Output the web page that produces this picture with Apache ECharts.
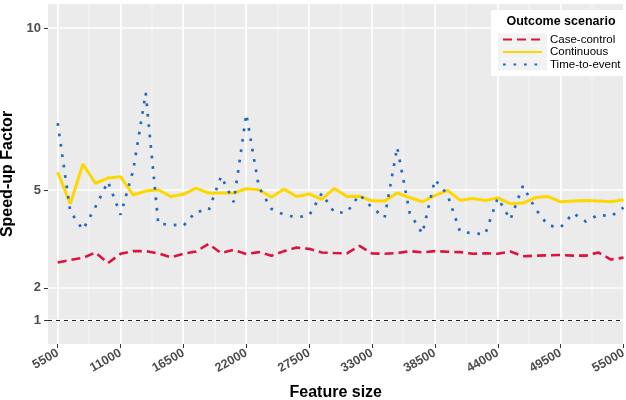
<!DOCTYPE html>
<html><head><meta charset="utf-8">
<script src="https://cdn.jsdelivr.net/npm/echarts@6/dist/echarts.min.js"></script>
<style>html,body{margin:0;padding:0;background:#fff}#c{width:626px;height:400px}</style>
</head><body><div id="c"></div>
<script>
const featureSize = [5500,6600,7700,8800,9900,11000,12100,13200,14300,15400,16500,17600,18700,19800,20900,22000,23100,24200,25300,26400,27500,28600,29700,30800,31900,33000,34100,35200,36300,37400,38500,39600,40700,41800,42900,44000,45100,46200,47300,48400,49500,50600,51700,52800,53900,55000];
const caseControl = [2.78,2.86,2.92,3.09,2.76,3.05,3.13,3.13,3.06,2.94,3.05,3.12,3.35,3.07,3.17,3.04,3.10,2.99,3.13,3.24,3.20,3.09,3.07,3.06,3.29,3.06,3.05,3.07,3.13,3.09,3.13,3.11,3.10,3.05,3.06,3.05,3.12,2.97,2.99,3.00,3.01,2.99,2.99,3.09,2.87,2.93];
const continuous = [5.56,4.59,5.81,5.22,5.38,5.42,4.86,4.98,5.02,4.81,4.88,5.07,4.92,4.92,4.92,5.05,5.02,4.79,5.04,4.81,4.89,4.72,5.06,4.81,4.82,4.68,4.67,4.92,4.78,4.65,4.84,5.00,4.70,4.75,4.69,4.77,4.59,4.61,4.78,4.81,4.65,4.67,4.69,4.67,4.65,4.71];
const timeToEvent = [7.07,4.35,3.79,4.49,5.27,4.25,5.61,8.00,3.97,3.95,3.91,4.35,4.38,5.44,4.64,7.35,5.10,4.43,4.25,4.17,4.23,4.91,4.32,4.32,4.87,4.47,4.16,6.33,4.30,3.67,5.33,4.87,3.73,3.68,3.65,4.77,4.10,5.14,4.43,3.92,3.86,4.30,4.04,4.25,4.20,4.47];
const xTicks = [5500,11000,16500,22000,27500,33000,38500,44000,49500,55000];
const xMinor = [8250,13750,19250,24750,30250,35750,41250,46750,52250];
const yTicks = [1,2,5,10];
const refValue = 1;
const seriesNames = ['Case-control','Continuous','Time-to-event'];
const legendTitle = 'Outcome scenario';

const X_MIN = 4650, X_MAX = 55000, Y_MIN = 0.27, Y_MAX = 10.74;
const FONT = '"Liberation Sans", Arial, Helvetica, sans-serif';
const pair = arr => featureSize.map((x, i) => [x, arr[i]]);
const chart = echarts.init(document.getElementById('c'), null, {renderer: 'canvas'});

// grid lines drawn as thin rectangles by a custom series through the axes' scales
const gridSpec = [].concat(
  xMinor.map(v => ({dir: 'v', value: v, w: 1, color: '#F7F7F7'})),
  xTicks.map(v => ({dir: 'v', value: v, w: 1.6, color: '#FFFFFF'})),
  yTicks.map(v => ({dir: 'h', value: v, w: 1.6, color: '#FFFFFF'}))
);

const gridSeries = {
  name: 'gridlines', type: 'custom', silent: true, z: 1, clip: false,
  data: gridSpec.map((g, i) => [i]),
  renderItem: function (params, api) {
    const g = gridSpec[api.value(0)];
    let p1, p2;
    if (g.dir === 'v') {
      p1 = api.coord([g.value, Y_MAX]); p2 = api.coord([g.value, Y_MIN]);
      const x = Math.round(p1[0]) - g.w / 2;
      return {type: 'rect', shape: {x: x, y: p1[1], width: g.w, height: p2[1] - p1[1]}, style: {fill: g.color}};
    }
    p1 = api.coord([X_MIN, g.value]); p2 = api.coord([X_MAX, g.value]);
    const y = Math.round(p1[1]) - g.w / 2;
    return {type: 'rect', shape: {x: p1[0], y: y, width: p2[0] - p1[0], height: g.w}, style: {fill: g.color}};
  }
};

const option = {
  animation: false,
  grid: {left: 48, right: 2.5, top: 4, bottom: 56, show: true, backgroundColor: '#EBEBEB', borderWidth: 0,
         containLabel: false, outerBoundsMode: 'none'},
  xAxis: {
    type: 'value', min: X_MIN, max: X_MAX,
    axisLine: {show: false}, splitLine: {show: false},
    axisTick: {show: true, length: 4, lineStyle: {color: '#333333', width: 1}, customValues: xTicks},
    axisLabel: {customValues: xTicks, formatter: v => String(v), rotate: 30, margin: 8, color: '#4D4D4D', fontWeight: 'bold', fontSize: 12.5, fontFamily: FONT},
    name: 'Feature size', nameLocation: 'middle', nameGap: 41,
    nameTextStyle: {color: '#000', fontWeight: 'bold', fontSize: 16, fontFamily: FONT}
  },
  yAxis: {
    type: 'value', min: Y_MIN, max: Y_MAX,
    axisLine: {show: false}, splitLine: {show: false},
    axisTick: {show: true, length: 4, lineStyle: {color: '#333333', width: 1}, customValues: yTicks},
    axisLabel: {customValues: yTicks, formatter: v => String(v), margin: 7, color: '#4D4D4D', fontWeight: 'bold', fontSize: 13, fontFamily: FONT},
    name: 'Speed-up Factor', nameLocation: 'middle', nameGap: 31, nameRotate: 90,
    nameTextStyle: {color: '#000', fontWeight: 'bold', fontSize: 16, fontFamily: FONT}
  },
  legend: {
    data: seriesNames, orient: 'vertical', left: 502, top: 33.5, z: 10,
    itemWidth: 39, itemHeight: 12, itemGap: 0.5, padding: 0,
    itemStyle: {opacity: 0},
    textStyle: {fontSize: 11.5, color: '#000', fontFamily: FONT, padding: [0, 0, 0, 3]}
  },
  graphic: [
    {type: 'rect', shape: {x: 491, y: 10, width: 135, height: 66}, style: {fill: '#FFFFFF'}, z: 3, silent: true},
    {type: 'text', x: 561, y: 22, style: {text: legendTitle, font: 'bold 12.5px ' + FONT, fill: '#000', textAlign: 'center', textVerticalAlign: 'middle'}, z: 4, silent: true},
    {type: 'rect', shape: {x: 498, y: 33.5, width: 49, height: 12}, style: {fill: '#F2F2F2'}, z: 4, silent: true},
    {type: 'rect', shape: {x: 498, y: 46, width: 49, height: 12}, style: {fill: '#F2F2F2'}, z: 4, silent: true},
    {type: 'rect', shape: {x: 498, y: 58.5, width: 49, height: 12}, style: {fill: '#F2F2F2'}, z: 4, silent: true}
  ],
  series: [
    gridSeries,
    {
      name: 'refline', type: 'line', data: [[5500, refValue]], symbol: 'none', silent: true, z: 2,
      lineStyle: {opacity: 0},
      markLine: {silent: true, symbol: ['none', 'none'], label: {show: false}, animation: false,
        data: [[{coord: [X_MIN, refValue]}, {coord: [X_MAX, refValue]}]],
        lineStyle: {color: '#222222', width: 1.1, type: [4, 4]}}
    },
    {
      name: seriesNames[0], type: 'line', data: pair(caseControl), symbol: 'none', showSymbol: false, z: 3,
      lineStyle: {color: '#DC143C', width: 2.6, type: [9, 5], cap: 'butt'}, itemStyle: {color: '#DC143C'}
    },
    {
      name: seriesNames[1], type: 'line', data: pair(continuous), symbol: 'none', showSymbol: false, z: 3,
      lineStyle: {color: '#FFD700', width: 3}, itemStyle: {color: '#FFD700'}
    },
    {
      name: seriesNames[2], type: 'line', data: pair(timeToEvent), symbol: 'none', showSymbol: false, z: 3,
      lineStyle: {color: '#2468C0', width: 2.7, type: [2.7, 7.8], cap: 'butt'}, itemStyle: {color: '#2468C0'}
    }
  ]
};
chart.setOption(option);
</script></body></html>
